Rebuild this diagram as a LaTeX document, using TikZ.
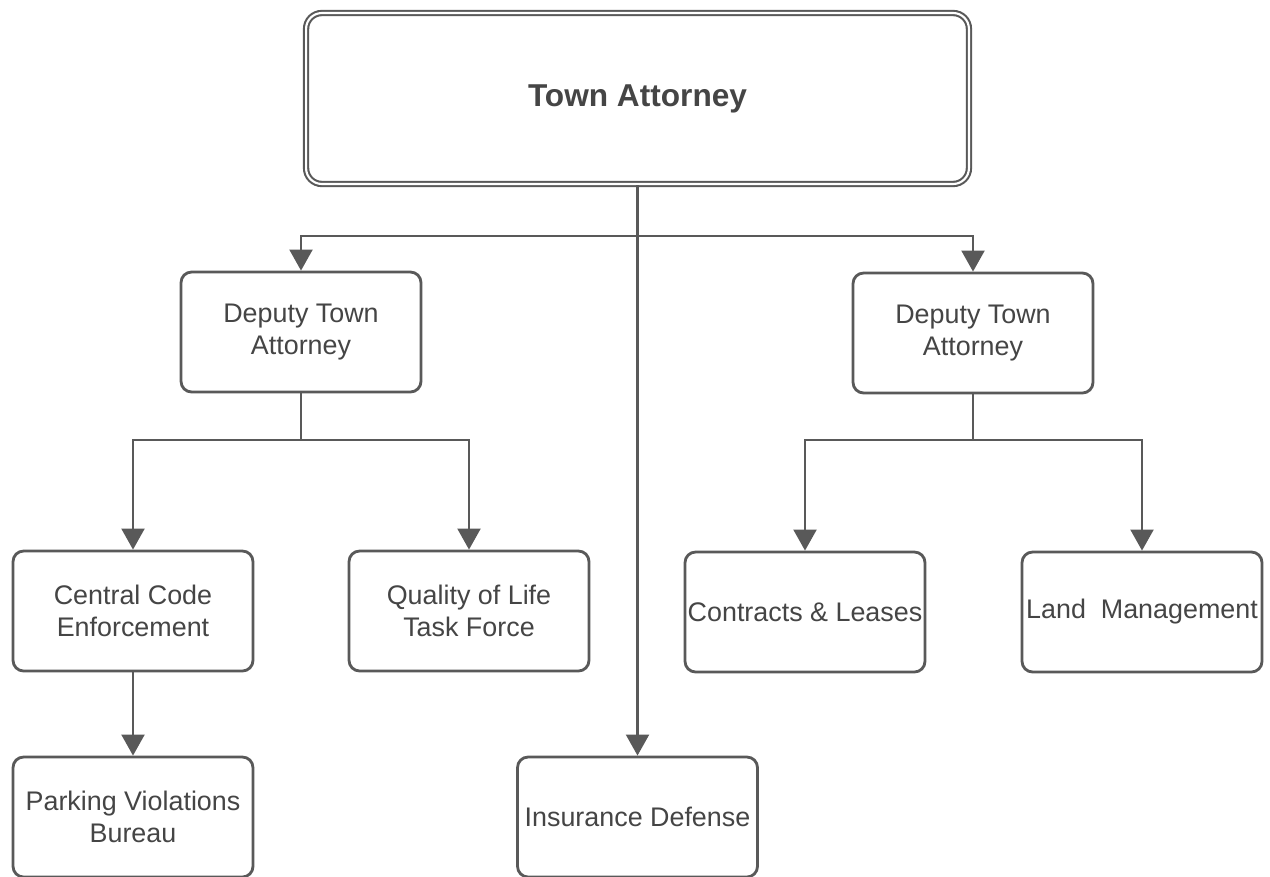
\documentclass[tikz,border=0pt]{standalone}
\usepackage{fontspec}
\setmainfont{Liberation Sans}
\usetikzlibrary{arrows.meta}
\definecolor{linegray}{HTML}{595959}
\definecolor{textgray}{HTML}{454545}

\begin{document}
\begin{tikzpicture}[x=0.02cm, y=-0.02cm,
    box/.style={draw=linegray, line width=1.6pt, rounded corners=6pt, fill=white,
        minimum width=4.8cm, minimum height=2.4cm, inner sep=1pt, align=center,
        text=textgray, font=\fontsize{15.3}{18.3}\selectfont},
    topbox/.style={box, line width=1.2pt, double=white, double distance=1.2pt,
        rounded corners=9pt, minimum width=13.26cm, minimum height=3.42cm,
        font=\fontsize{18}{21}\selectfont\bfseries},
    link/.style={draw=linegray, line width=1.6pt},
    arr/.style={link, -{Triangle[width=13pt,length=12pt]}}]
    \useasboundingbox (0,0) rectangle (1270,876);

    % Caixa principal
    \node[topbox] (town) at (637.5,98.5) {Town Attorney};

    % Deputados
    \node[box] (depL) at (301,332) {Deputy Town\\Attorney};
    \node[box] (depR) at (973,333) {Deputy Town\\Attorney};

    % Segundo nivel
    \node[box] (code) at (133,611) {Central Code\\Enforcement};
    \node[box] (life) at (469,611) {Quality of Life\\Task Force};
    \node[box] (lease) at (805,612) {Contracts \& Leases};
    \node[box] (land) at (1142,612) {Land\ \ Management};

    % Terceiro nivel
    \node[box] (park) at (133,817) {Parking Violations\\Bureau};
    \node[box] (insur) at (637.5,817) {Insurance Defense};

    % Pontos de ramificacao
    \coordinate (topbar) at (637.5,236);
    \coordinate (barL) at (301,440);
    \coordinate (barR) at (973,440);

    % Ligacoes
    \draw[arr] (town) -- (insur);
    \draw[arr] (topbar) -| (depL);
    \draw[arr] (topbar) -| (depR);

    \draw[link] (depL) -- (barL);
    \draw[arr] (barL) -| (code);
    \draw[arr] (barL) -| (life);

    \draw[link] (depR) -- (barR);
    \draw[arr] (barR) -| (lease);
    \draw[arr] (barR) -| (land);

    \draw[arr] (code) -- (park);
\end{tikzpicture}
\end{document}
